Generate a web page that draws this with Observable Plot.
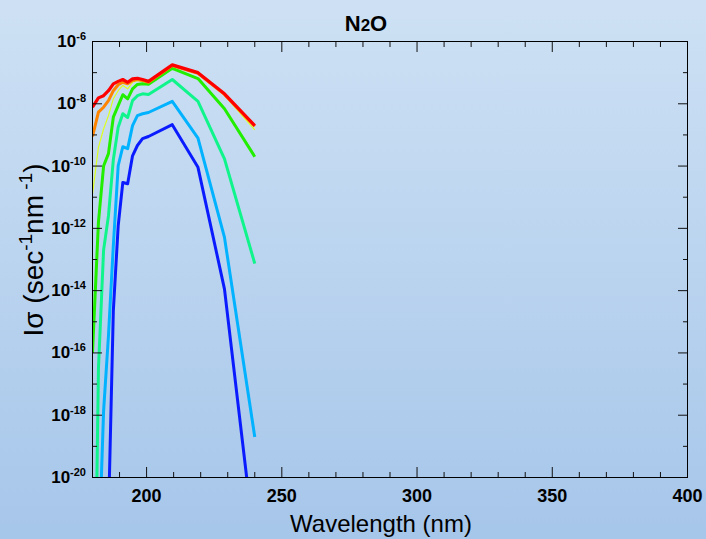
<!DOCTYPE html>
<html><head><meta charset="utf-8">
<script src="https://cdn.jsdelivr.net/npm/d3@7"></script>
<script src="https://cdn.jsdelivr.net/npm/@observablehq/plot@0.6"></script>
<style>
html,body{margin:0;padding:0;}
body{width:706px;height:539px;overflow:hidden;background:linear-gradient(#cee1f4,#a6c6ea);font-family:"Liberation Sans",Arial,sans-serif;}
#chart{width:706px;height:539px;}
</style></head><body><div id="chart"></div>
<script>
// Wavelength grid (nm)
const wavelength = [180, 182.2, 184.1, 185.9, 187.7, 189.5, 191.2, 193, 194.8, 196.6, 198.5, 200.7, 209.5, 219, 228.8, 240];
// log10 of I*sigma for each curve (values below 1e-20 are clipped by the frame)
const logBlue        = [-30, -30, -30, -21.3, -14.65, -11.92, -10.53, -10.57, -9.67, -9.34, -9.12, -9.05, -8.67, -10.04, -13.95, -22.2];
const logLightBlue   = [-30, -22.8, -17.87, -15.45, -12.56, -9.99, -9.38, -9.44, -8.70, -8.38, -8.32, -8.28, -7.92, -9.10, -12.29, -18.70];
const logSpringGreen = [-30, -16.5, -12.7, -11.6, -9.8, -8.75, -8.32, -8.44, -7.90, -7.74, -7.68, -7.70, -7.22, -7.92, -9.77, -13.13];
const logGreen       = [-16.0, -11.8, -10.0, -9.6, -8.43, -8.06, -7.71, -7.84, -7.52, -7.38, -7.36, -7.37, -6.86, -7.19, -8.16, -9.70];
const logYellow      = [-10.9, -9.4, -8.81, -8.38, -7.84, -7.58, -7.41, -7.52, -7.31, -7.25, -7.28, -7.31, -6.78, -7.03, -7.73, -8.84];
const logOrange      = [-9.05, -8.27, -8.11, -7.90, -7.58, -7.39, -7.31, -7.36, -7.25, -7.22, -7.25, -7.31, -6.77, -7.02, -7.70, -8.72];
const logRed         = [-8.11, -7.81, -7.74, -7.58, -7.36, -7.28, -7.22, -7.31, -7.20, -7.18, -7.22, -7.28, -6.75, -7.00, -7.68, -8.70];

const seriesList = [
  {name: "blue", values: logBlue, color: "#0a1cff", width: 3},
  {name: "lightblue", values: logLightBlue, color: "#00b2ff", width: 3},
  {name: "springgreen", values: logSpringGreen, color: "#10f48c", width: 3},
  {name: "green", values: logGreen, color: "#22ee00", width: 3},
  {name: "yellow", values: logYellow, color: "#dcff20", width: 1.2},
  {name: "orange", values: logOrange, color: "#ff8400", width: 3},
  {name: "red", values: logRed, color: "#ff0000", width: 3.2}
];

const xMajor = [200, 250, 300, 350, 400];
const xMinor = [190, 210, 220, 230, 240, 260, 270, 280, 290, 310, 320, 330, 340, 360, 370, 380, 390];
const yMajorExp = [-6, -8, -10, -12, -14, -16, -18, -20];
const yMinorExp = [-7, -9, -11, -13, -15, -17, -19];

const yMajor = yMajorExp.map(e => 10 ** e);
const yMinor = yMinorExp.map(e => 10 ** e);

const lineMarks = seriesList.map(s =>
  Plot.line(s.values.map((v, i) => ({wl: wavelength[i], v: 10 ** v})), {
    x: "wl", y: "v", stroke: s.color, strokeWidth: s.width, clip: true,
    strokeLinejoin: "round", strokeLinecap: "butt"
  })
);

const tickOnly = {fill: "none", label: null, stroke: "#111", strokeWidth: 1};

const plot = Plot.plot({
  width: 706, height: 539,
  marginLeft: 92, marginRight: 19, marginTop: 41, marginBottom: 62,
  style: {background: "transparent", overflow: "visible"},
  x: {domain: [180, 400]},
  y: {type: "log", domain: [1e-20, 1e-6]},
  marks: [
    ...lineMarks,
    Plot.axisX(xMajor, {anchor: "bottom", tickSize: -10, ...tickOnly}),
    Plot.axisX(xMinor, {anchor: "bottom", tickSize: -5, ...tickOnly}),
    Plot.axisX(xMajor, {anchor: "top", tickSize: -10, ...tickOnly}),
    Plot.axisX(xMinor, {anchor: "top", tickSize: -5, ...tickOnly}),
    Plot.axisY(yMajor, {anchor: "left", tickSize: -10, ...tickOnly}),
    Plot.axisY(yMinor, {anchor: "left", tickSize: -5, ...tickOnly}),
    Plot.axisY(yMajor, {anchor: "right", tickSize: -10, ...tickOnly}),
    Plot.axisY(yMinor, {anchor: "right", tickSize: -5, ...tickOnly}),
    Plot.axisX(xMajor, {anchor: "bottom", tickSize: 0, tickPadding: 12, fontSize: 18, fontWeight: "bold", fill: "#000", label: null, tickFormat: d => String(d), fontFamily: "Liberation Sans"}),
    Plot.frame({stroke: "#000", strokeWidth: 1})
  ]
});

document.getElementById("chart").appendChild(plot);
const svg = d3.select(plot);
const ys = plot.scale("y");

const gl = svg.append("g").attr("font-family", "Liberation Sans, Arial, sans-serif").attr("font-weight", "bold").attr("fill", "#000");
yMajorExp.forEach((e, i) => {
  const t = gl.append("text").attr("x", 86).attr("y", ys.apply(yMajor[i]) + 6).attr("text-anchor", "end");
  t.append("tspan").attr("font-size", 17).text("10");
  t.append("tspan").attr("font-size", 11).attr("dy", -7).text(String(e));
});

// Title
const title = svg.append("text").attr("x", 366).attr("y", 31).attr("text-anchor", "middle")
  .attr("font-family", "Liberation Sans, Arial, sans-serif").attr("font-weight", "bold").attr("font-size", 22).attr("fill", "#000");
title.append("tspan").text("N");
title.append("tspan").attr("font-size", 17).text("2");
title.append("tspan").text("O");

// X axis title
svg.append("text").attr("x", 381).attr("y", 532).attr("text-anchor", "middle")
  .attr("font-family", "Liberation Sans, Arial, sans-serif").attr("font-size", 24).attr("fill", "#000")
  .text("Wavelength (nm)");

// Y axis title
const yt = svg.append("text").attr("transform", "translate(43,250) rotate(-90)").attr("text-anchor", "middle")
  .attr("font-family", "Liberation Sans, Arial, sans-serif").attr("font-size", 28).attr("fill", "#000");
yt.append("tspan").text("Iσ (sec");
yt.append("tspan").attr("font-size", 19).attr("dy", -11).text("-1");
yt.append("tspan").attr("dy", 11).text("nm");
yt.append("tspan").attr("font-size", 19).attr("dy", -11).text(" -1");
yt.append("tspan").attr("dy", 11).text(")");
</script>
</body></html>
